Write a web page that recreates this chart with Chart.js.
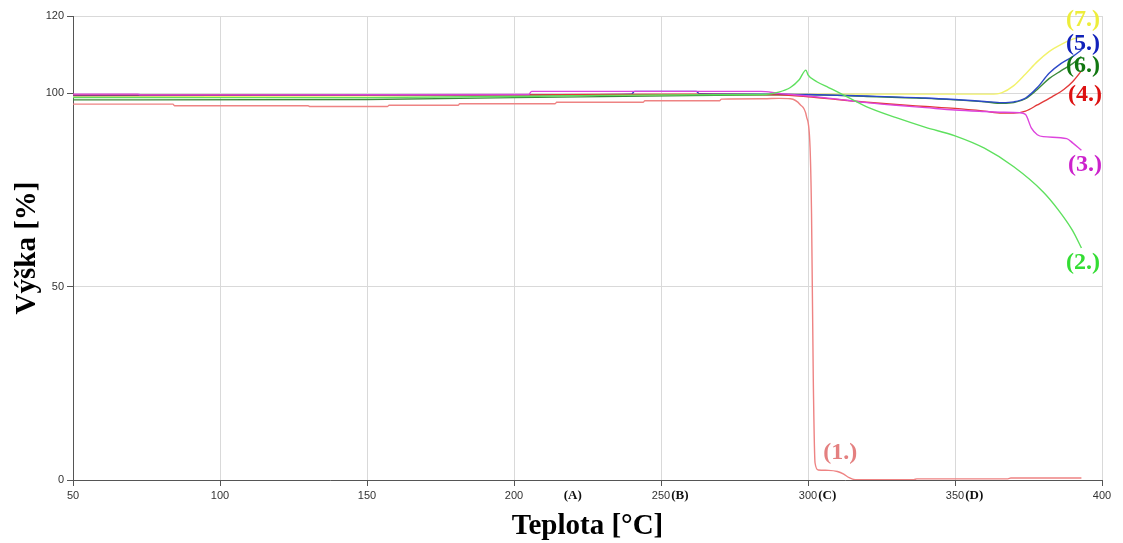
<!DOCTYPE html>
<html>
<head>
<meta charset="utf-8">
<title>Výška vs. teplota</title>
<script src="https://cdn.jsdelivr.net/npm/chart.js@4/dist/chart.umd.min.js"></script>
<style>
  html, body { margin: 0; padding: 0; background: #ffffff; }
  #wrap { width: 1123px; height: 543px; position: relative; }
</style>
</head>
<body>
<div id="wrap"><canvas id="chart"></canvas></div>
<script>
// Axis ticks
const xTicks = [50, 100, 150, 200, 250, 300, 350, 400];
const yTicks = [0, 50, 100, 120];

// Phase markers along the temperature axis
const markerTemps = [220, 250, 300, 350];
const markerTexts = ['(A)', '(B)', '(C)', '(D)'];

// (1.) – teplota [°C] / výška [%]
const temp1 = [50, 84, 84.5, 130, 130.5, 157, 157.5, 181, 181.5, 214, 214.5, 244, 244.5, 270, 270.5, 285, 290, 294, 297.3, 299.5, 300.7, 301.2, 301.8, 302.4, 303.5, 307, 310, 312, 314, 316, 336, 337, 368, 369, 393];
const height1 = [97.2, 97.2, 96.8, 96.8, 96.6, 96.6, 96.9, 96.9, 97.3, 97.3, 97.7, 97.7, 98.1, 98.1, 98.5, 98.6, 98.7, 98.6, 97.1, 94, 86, 69, 26, 4.4, 2.6, 2.5, 2.2, 1.6, 0.6, 0.1, 0.1, 0.3, 0.3, 0.5, 0.5];

// (2.)
const temp2 = [50, 150, 200, 250, 285, 290, 294, 297, 299.3, 300, 303, 307, 311, 320, 330, 340, 350, 360, 370, 380, 385, 390, 393];
const height2 = [98.9, 98.9, 99.2, 99.6, 99.7, 100.3, 101.5, 103.5, 106, 104.8, 103, 101.5, 100, 96.5, 93.7, 91.2, 89, 85.8, 81, 74.5, 70, 64.5, 60];

// (3.)
const temp3 = [50, 72, 73, 205, 206, 284, 290, 300, 310, 320, 330, 340, 350, 360, 366, 372, 374, 376, 378, 380, 388, 390, 393];
const height3 = [99.8, 99.8, 99.6, 99.7, 100.5, 100.5, 100, 99.3, 98.5, 97.6, 96.9, 96.3, 95.7, 95.3, 95.1, 95.0, 94.5, 91, 89.3, 88.8, 88.3, 87.2, 85.3];

// (4.)
const temp4 = [50, 200, 260, 290, 300, 310, 320, 330, 340, 350, 360, 366, 370, 374, 378, 383, 387, 390, 393];
const height4 = [99.6, 99.6, 99.8, 99.6, 99.1, 98.4, 97.7, 97.1, 96.6, 96.1, 95.4, 94.9, 94.9, 95.4, 97, 99.1, 101, 103, 105.8];

// (5.)
const temp5 = [50, 200, 240, 241, 262, 263, 290, 300, 320, 340, 350, 360, 366, 370, 374, 378, 382, 386, 390, 393];
const height5 = [99.4, 99.6, 99.8, 100.5, 100.5, 99.9, 99.8, 99.7, 99.3, 98.8, 98.4, 97.9, 97.6, 97.8, 98.8, 101.5, 105.2, 107.7, 109.5, 111.2];

// (6.)
const temp6 = [50, 150, 200, 260, 290, 300, 320, 340, 350, 360, 366, 370, 374, 378, 382, 386, 390, 393];
const height6 = [98.3, 98.4, 98.9, 99.4, 99.6, 99.6, 99.2, 98.7, 98.3, 97.8, 97.4, 97.6, 98.6, 101, 103.8, 105.8, 107.7, 109.5];

// (7.)
const temp7 = [50, 200, 280, 300, 350, 362, 366, 370, 374, 378, 382, 386, 390, 393];
const height7 = [99.2, 99.4, 99.7, 99.8, 99.8, 99.8, 100.2, 102, 105, 108.2, 110.8, 112.6, 114, 114.6];

// Curve names and where their names sit (data coordinates)
const seriesNames = ['(1.)', '(2.)', '(3.)', '(4.)', '(5.)', '(6.)', '(7.)'];
const nameTemps = [311, 393.5, 394.2, 394.2, 393.5, 393.5, 393.5];
const nameHeights = [7.0, 56.1, 81.5, 99.6, 112.7, 107.1, 119];

const lineColors = ['#ee8383', '#5ee05e', '#dd44dd', '#e23a3a', '#2c48c8', '#3a8a3a', '#f2f26a'];
const nameColors = ['#e48080', '#33dd33', '#cc22cc', '#dd1111', '#1122bb', '#117711', '#eded3a'];

const temps = [temp1, temp2, temp3, temp4, temp5, temp6, temp7];
const heights = [height1, height2, height3, height4, height5, height6, height7];

const datasets = temps.map((t, i) => ({
  label: seriesNames[i],
  data: t.map((x, k) => ({ x: x, y: heights[i][k] })),
  borderColor: lineColors[i],
  backgroundColor: lineColors[i],
  borderWidth: 1.4,
  pointRadius: 0,
  fill: false,
  cubicInterpolationMode: 'monotone'
}));

// Draws the marker letters beside the temperature ticks and the curve names
const annotations = {
  id: 'annotations',
  afterDraw(chart) {
    const ctx = chart.ctx;
    const xs = chart.scales.x;
    const ys = chart.scales.y;
    ctx.save();

    // marker letters (A)–(D)
    ctx.font = '11px "Liberation Sans", Arial, sans-serif';
    const tickY = xs.top + 6 + 3 + 7;
    markerTemps.forEach((t, i) => {
      const px = xs.getPixelForValue(t);
      let x, align;
      if (xTicks.includes(t)) {
        ctx.font = '11px "Liberation Sans", Arial, sans-serif';
        const w = ctx.measureText(String(t)).width;
        x = px + w / 2 + 1;
        align = 'left';
      } else {
        x = px;
        align = 'center';
      }
      ctx.font = 'bold 13px "Liberation Serif", "Times New Roman", serif';
      ctx.fillStyle = '#111111';
      ctx.textAlign = align;
      ctx.textBaseline = 'middle';
      ctx.fillText(markerTexts[i], x, tickY);
    });

    // curve names
    ctx.font = 'bold 24px "Liberation Serif", "Times New Roman", serif';
    ctx.textAlign = 'center';
    ctx.textBaseline = 'middle';
    seriesNames.forEach((name, i) => {
      ctx.fillStyle = nameColors[i];
      ctx.fillText(name, xs.getPixelForValue(nameTemps[i]), ys.getPixelForValue(nameHeights[i]));
    });
    ctx.restore();
  }
};

new Chart(document.getElementById('chart'), {
  type: 'line',
  data: { datasets: datasets },
  options: {
    responsive: true,
    maintainAspectRatio: false,
    animation: false,
    devicePixelRatio: 1,
    layout: { padding: { top: 16, right: 21, left: 0, bottom: 0 } },
    plugins: {
      legend: { display: false },
      tooltip: { enabled: false }
    },
    scales: {
      x: {
        type: 'linear',
        min: 50,
        max: 400,
        afterBuildTicks(scale) { scale.ticks = xTicks.map(v => ({ value: v })); },
        afterFit(scale) { scale.height = 63; },
        ticks: {
          color: '#333333',
          font: { family: '"Liberation Sans", Arial, sans-serif', size: 11 },
          padding: 3,
          maxRotation: 0,
          autoSkip: false
        },
        grid: {
          color: '#d9d9d9',
          lineWidth: 1,
          tickColor: '#555555',
          tickLength: 6
        },
        border: { color: '#555555', width: 1 },
        title: {
          display: true,
          text: 'Teplota [°C]',
          color: '#000000',
          font: { family: '"Liberation Serif", "Times New Roman", serif', size: 29, weight: 'bold' },
          padding: { top: 0, bottom: -1 }
        }
      },
      y: {
        type: 'linear',
        min: 0,
        max: 120,
        afterBuildTicks(scale) { scale.ticks = yTicks.map(v => ({ value: v })); },
        afterFit(scale) { scale.width = 73; },
        ticks: {
          color: '#333333',
          font: { family: '"Liberation Sans", Arial, sans-serif', size: 11 },
          padding: 3,
          autoSkip: false
        },
        grid: {
          color: '#d9d9d9',
          lineWidth: 1,
          tickColor: '#555555',
          tickLength: 6
        },
        border: { color: '#555555', width: 1 },
        title: {
          display: true,
          text: 'Výška [%]',
          color: '#000000',
          font: { family: '"Liberation Serif", "Times New Roman", serif', size: 29, weight: 'bold' },
          padding: { top: 10, bottom: 0 }
        }
      }
    }
  },
  plugins: [annotations]
});
</script>
</body>
</html>
